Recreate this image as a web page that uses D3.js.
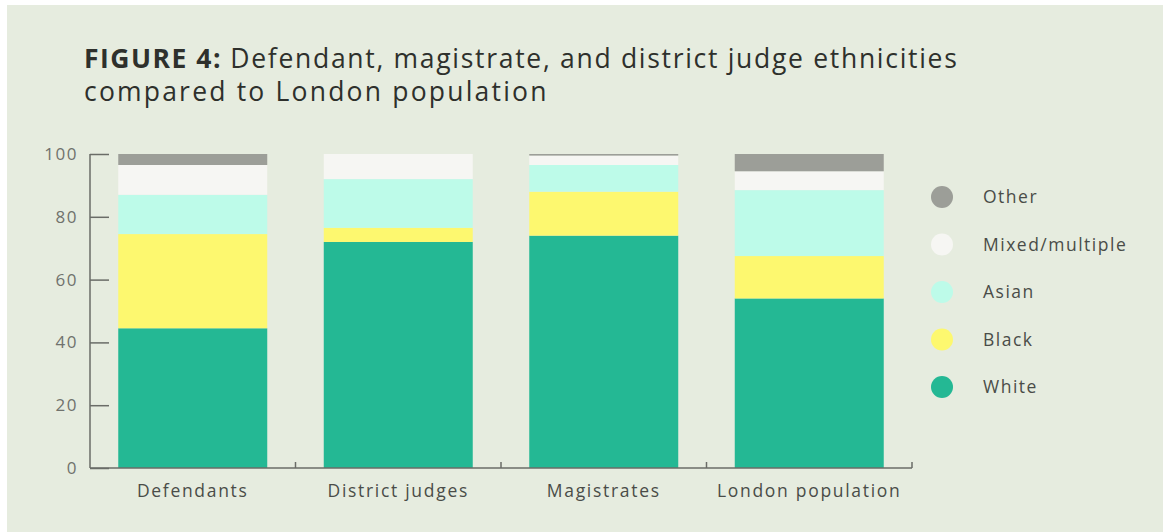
<!DOCTYPE html>
<html>
<head>
<meta charset="utf-8">
<script src="https://cdn.jsdelivr.net/npm/d3@7"></script>
<style>
  body { margin: 0; background: #fff; }
  svg { display: block; font-family: "Open Sans", Lato, sans-serif; }
</style>
</head>
<body>
<div id="chart"></div>
<script>
// DATA
const groups = ["Defendants", "District judges", "Magistrates", "London population"]
const ethnicities = ["White", "Black", "Asian", "Mixed/multiple", "Other"]
const white = [44.5, 72, 74, 54]
const black = [30, 4.5, 14, 13.5]
const asian = [12.5, 15.5, 8.5, 21]
const mixed = [9.5, 8, 3, 6]
const other = [3.5, 0, 0.5, 5.5]
const yTicks = [0, 20, 40, 60, 80, 100]
const colors = ["#24b894", "#fdf86f", "#bdfbe9", "#f6f6f3", "#9c9e98"]

// DIMENSIONS
const width = 1163
const height = 532
const margin = { top: 154, right: 251, bottom: 64, left: 90 }
const boundedWidth = width - margin.left - margin.right
const boundedHeight = height - margin.top - margin.bottom

const rows = groups.map((g, i) => ({
  group: g, White: white[i], Black: black[i], Asian: asian[i],
  "Mixed/multiple": mixed[i], Other: other[i],
}))
const series = d3.stack().keys(ethnicities)(rows)

const svg = d3.select("#chart").append("svg")
  .attr("width", width)
  .attr("height", height)

svg.append("rect")
  .attr("x", 7).attr("y", 5)
  .attr("width", width - 7).attr("height", height - 5)
  .attr("fill", "#e6ecdf")

// TITLE
const title = svg.append("text")
  .attr("x", 84).attr("y", 68)
  .attr("fill", "#2e302c")
  .attr("letter-spacing", "1.7px")
  .style("font-size", "26.5px")
title.append("tspan").attr("font-weight", 700).attr("letter-spacing", "1.5px").text("FIGURE 4: ")
title.append("tspan").text("Defendant, magistrate, and district judge ethnicities")
svg.append("text")
  .attr("x", 84).attr("y", 101)
  .attr("fill", "#2e302c")
  .attr("letter-spacing", "2.2px")
  .style("font-size", "26.5px")
  .text("compared to London population")

const bounds = svg.append("g")
  .attr("transform", `translate(${margin.left},${margin.top})`)

const xScale = d3.scaleBand()
  .domain(groups)
  .range([0, boundedWidth])
  .paddingInner(0.275)
  .paddingOuter(0.1375)

const yScale = d3.scaleLinear()
  .domain([0, 100])
  .range([boundedHeight, 0])

const colorScale = d3.scaleOrdinal().domain(ethnicities).range(colors)

// BARS
bounds.selectAll("g.layer").data(series).enter()
  .append("g")
  .attr("class", "layer")
  .attr("fill", (d) => colorScale(d.key))
  .selectAll("rect").data((d) => d).enter()
  .append("rect")
  .attr("x", (d) => xScale(d.data.group))
  .attr("y", (d) => yScale(d[1]))
  .attr("width", xScale.bandwidth())
  .attr("height", (d) => yScale(d[0]) - yScale(d[1]))

// AXES
const axisColor = "#6a6c67"
const yAxis = bounds.append("g")
  .call(d3.axisRight(yScale).tickValues(yTicks).tickSize(19).tickFormat(""))
yAxis.select(".domain").remove()
yAxis.selectAll(".tick line").attr("stroke", axisColor).attr("stroke-width", 1.5)
bounds.append("line")
  .attr("x1", 0).attr("x2", 0)
  .attr("y1", yScale(100)).attr("y2", yScale(0))
  .attr("stroke", axisColor).attr("stroke-width", 1.5)

bounds.selectAll("text.ylabel").data(yTicks).enter()
  .append("text")
  .attr("class", "ylabel")
  .attr("x", -12)
  .attr("y", (d) => yScale(d))
  .attr("dy", "0.35em")
  .attr("text-anchor", "end")
  .attr("fill", "#70726d")
  .attr("letter-spacing", "1.5px")
  .style("font-size", "17px")
  .text((d) => d)

// bottom axis with ticks at band boundaries
const boundaries = groups.map((g) => xScale(g) - xScale.step() * xScale.paddingInner() / 2)
  .concat([boundedWidth])
bounds.append("line")
  .attr("x1", 0).attr("x2", boundedWidth)
  .attr("y1", boundedHeight).attr("y2", boundedHeight)
  .attr("stroke", axisColor).attr("stroke-width", 1.5)
bounds.selectAll("line.xtick").data(boundaries.slice(1)).enter()
  .append("line")
  .attr("class", "xtick")
  .attr("x1", (d) => d).attr("x2", (d) => d)
  .attr("y1", boundedHeight).attr("y2", boundedHeight - 6)
  .attr("stroke", axisColor).attr("stroke-width", 1.5)

bounds.selectAll("text.xlabel").data(groups).enter()
  .append("text")
  .attr("class", "xlabel")
  .attr("x", (d) => xScale(d) + xScale.bandwidth() / 2)
  .attr("y", boundedHeight + 29)
  .attr("text-anchor", "middle")
  .attr("fill", "#4a4c48")
  .attr("letter-spacing", "1.7px")
  .style("font-size", "17.5px")
  .text((d) => d)

// LEGEND
const legendOrder = ethnicities.slice().reverse()
const legend = svg.append("g")
  .attr("transform", "translate(942,197)")
const item = legend.selectAll("g").data(legendOrder).enter()
  .append("g")
  .attr("transform", (d, i) => `translate(0,${i * 47.5})`)
item.append("circle")
  .attr("r", 11)
  .attr("fill", (d) => colorScale(d))
item.append("text")
  .attr("x", 41)
  .attr("dy", "0.35em")
  .attr("fill", "#4a4c48")
  .attr("letter-spacing", "1.5px")
  .style("font-size", "17.5px")
  .text((d) => d)
</script>
</body>
</html>
